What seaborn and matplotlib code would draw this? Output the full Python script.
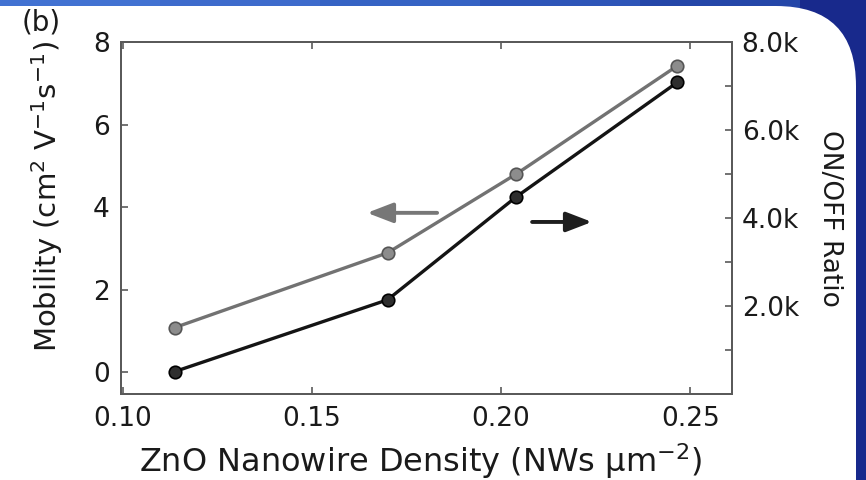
"""Mobility and ON/OFF ratio versus ZnO nanowire density (dual-axis line chart)."""

import matplotlib
matplotlib.use("Agg")
import matplotlib.pyplot as plt
import matplotlib.transforms as mtransforms
from matplotlib.patches import FancyBboxPatch, Rectangle
from matplotlib.ticker import FuncFormatter, FixedLocator
import seaborn as sns

# data
density = [0.1138, 0.1700, 0.2040, 0.2465]          # NWs per um^2
mobility = [1.08, 2.89, 4.80, 7.42]                  # cm^2 V^-1 s^-1 (left axis)
on_off_ratio = [510, 2140, 4480, 7080]               # right axis

x_ticks = [0.10, 0.15, 0.20, 0.25]
mobility_ticks = [0, 2, 4, 6, 8]
ratio_major = [2000, 4000, 6000, 8000]
ratio_minor = [1000, 3000, 5000, 7000]

GRAY = "#727272"
BLACK = "#141414"
TEXT = "#1a1a1a"

sns.set_theme(style="ticks")
plt.rcParams["font.family"] = ["DejaVu Sans"]
plt.rcParams["mathtext.default"] = "regular"

fig = plt.figure(figsize=(8.66, 4.8), dpi=100)
fig.patch.set_facecolor("#18298c")

# slide background: blue band on top, white panel with rounded top-right corner
px = mtransforms.IdentityTransform()
band_cols = ["#4272d2", "#3d6bcc", "#3563c4", "#2d55b8", "#2446a8"]
for i, c in enumerate(band_cols):
    fig.add_artist(Rectangle((i * 160, 470), 160, 20, transform=px, facecolor=c,
                             edgecolor="none", zorder=-11))
panel = FancyBboxPatch((-300, -300), 300 + 856, 300 + 474,
                       boxstyle="round,pad=0,rounding_size=80",
                       transform=px, facecolor="white", edgecolor="none", zorder=-10)
fig.add_artist(panel)

ax = fig.add_axes([121 / 866, 1 - 394 / 480, 611 / 866, 352 / 480])
ax2 = ax.twinx()

sns.lineplot(x=density, y=mobility, ax=ax, color=GRAY, linewidth=2.4,
             marker="o", markersize=9, markerfacecolor="#8c8c8c",
             markeredgecolor="#555555", markeredgewidth=1.2)
sns.lineplot(x=density, y=on_off_ratio, ax=ax2, color=BLACK, linewidth=2.4,
             marker="o", markersize=9, markerfacecolor="#2e2e2e",
             markeredgecolor="#000000", markeredgewidth=1.2)

ax.set_xlim(0.0996, 0.261)
ax.set_ylim(-0.53, 8)
ax2.set_ylim(0, 8000)

ax.set_xticks(x_ticks)
ax.set_xticklabels([f"{v:.2f}" for v in x_ticks])
ax.set_yticks(mobility_ticks)
ax.set_yticklabels([str(v) for v in mobility_ticks])
ax2.yaxis.set_major_locator(FixedLocator(ratio_major))
ax2.yaxis.set_minor_locator(FixedLocator(ratio_minor))
ax2.yaxis.set_major_formatter(FuncFormatter(lambda v, p: f"{v / 1000:.1f}k"))

spine_col = "#5a5a5a"
for a in (ax, ax2):
    for s in a.spines.values():
        s.set_visible(True)
        s.set_color(spine_col)
        s.set_linewidth(1.4)

ax.tick_params(axis="x", direction="in", length=5, width=1.2, color=spine_col,
               top=True, labelsize=19, labelcolor=TEXT, pad=9)
ax.tick_params(axis="y", direction="in", length=5, width=1.2, color=spine_col,
               right=False, labelsize=19, labelcolor=TEXT, pad=8)
ax2.tick_params(axis="y", which="both", direction="in", length=5, width=1.2,
                color=spine_col, labelsize=19, labelcolor=TEXT, pad=7)
ax2.tick_params(axis="x", which="both", top=False, bottom=False)

ax.set_xlabel("ZnO Nanowire Density (NWs μm$^{-2}$)", fontsize=23, color=TEXT)
ax.xaxis.set_label_coords(0.49, -0.135)
ax.set_ylabel("Mobility (cm$^{2}$ V$^{-1}$s$^{-1}$)", fontsize=21, color=TEXT)
ax.yaxis.set_label_coords(-0.092, 0.56)
ax2.set_ylabel("ON/OFF Ratio", fontsize=19, color=TEXT, rotation=270,
               ha="center", va="center")
ax2.yaxis.set_label_coords(1.16, 0.5)

# direction arrows pointing to each series' axis
ax.annotate("", xy=(0.1646, 3.86), xytext=(0.1831, 3.86),
            arrowprops=dict(arrowstyle="-|>,head_length=1.3,head_width=0.5",
                            color="#777777", lw=2.8, shrinkA=0, shrinkB=0))
ax2.annotate("", xy=(0.2240, 3910), xytext=(0.2082, 3910),
             arrowprops=dict(arrowstyle="-|>,head_length=1.3,head_width=0.5",
                             color="#1e1e1e", lw=2.8, shrinkA=0, shrinkB=0))

fig.text(0.025, 0.954, "(b)", fontsize=20, color=TEXT, va="center", ha="left")

fig.savefig("out.png", dpi=100, facecolor=fig.get_facecolor())
